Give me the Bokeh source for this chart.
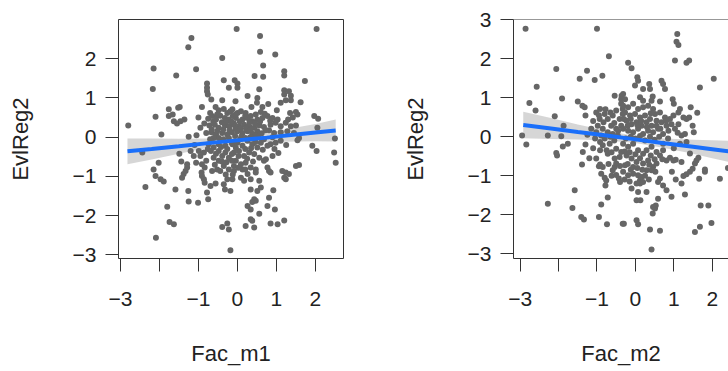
from bokeh.plotting import figure
from bokeh.layouts import row
from bokeh.models import FixedTicker, Span
from bokeh.embed import file_html
from bokeh.resources import INLINE

# ---------------- data ----------------
x_ticks = [-3, -2, -1, 0, 1, 2]
y_ticks_m1 = [-3, -2, -1, 0, 1, 2]
y_ticks_m2 = [-3, -2, -1, 0, 1, 2, 3]
x_title_m1 = "Fac_m1"
x_title_m2 = "Fac_m2"
y_title = "EvlReg2"

m1_points = [
    (-1.18, 2.53), (-1.26, 2.29), (-0.39, 2.02), (-2.15, 1.75), (-1.06, 1.73), (-1.57, 1.57), (-2.17, 1.23),
    (-0.78, 1.37), (-0.78, 1.26), (-0.78, 1.17), (-0.76, 1.09), (-0.35, 1.45), (-0.22, 1.26), (-0.67, 0.96),
    (-0.39, 0.94), (-0.91, 0.77), (-1.76, 0.71), (-1.52, 0.75), (-1.48, 0.77), (-2.10, 0.52), (-1.76, 0.54),
    (-1.66, 0.58), (-1.63, 0.41), (-1.55, 0.35), (-1.46, 0.41), (-1.36, 0.45), (-2.80, 0.30), (-1.95, 0.07),
    (-1.25, 0.01), (-0.95, 0.24),
    (-0.56, 0.77), (-0.48, 0.69), (-0.35, 0.72), (-0.26, 0.62), (-0.18, 0.66), (-0.75, 0.47), (-0.65, 0.54),
    (-0.55, 0.45), (-0.44, 0.55), (-0.32, 0.49), (-0.22, 0.45), (-0.12, 0.54), (-0.72, 0.30), (-0.58, 0.32),
    (-0.48, 0.24), (-0.32, 0.30), (-0.21, 0.28), (-0.09, 0.35), (-0.80, 0.11), (-0.67, 0.13), (-0.55, 0.07),
    (-0.39, 0.11), (-0.26, 0.07), (-0.14, 0.13), (-0.48, -0.02), (-0.61, -0.02),
    (-0.02, 2.76), (2.03, 2.76), (0.58, 2.58), (0.58, 2.18), (0.97, 2.11), (0.66, 1.83), (1.20, 1.68),
    (1.20, 1.57), (0.44, 1.56), (0.66, 1.54), (-0.07, 1.45), (0.0, 1.37), (0.0, 1.26), (1.73, 1.43),
    (0.56, 1.22), (1.20, 1.20), (1.20, 1.09), (1.32, 1.17), (1.37, 1.06), (-0.05, 0.92), (0.26, 1.05),
    (0.51, 1.00), (1.24, 0.94), (1.37, 0.94), (0.50, 0.88), (0.79, 0.85), (1.11, 0.88), (1.62, 0.89),
    (0.36, 0.77), (0.64, 0.77), (1.01, 0.69), (1.35, 0.62), (1.50, 0.64), (1.54, 0.58), (1.97, 0.54),
    (2.07, 0.47),
    (-0.13, 0.71), (0.0, 0.62), (0.09, 0.66), (0.21, 0.62), (0.34, 0.54), (0.47, 0.58), (0.60, 0.64),
    (-0.04, 0.49), (0.13, 0.45), (0.26, 0.49), (0.38, 0.41), (0.51, 0.45), (0.64, 0.49), (0.77, 0.54),
    (0.90, 0.49), (1.03, 0.45), (-0.09, 0.32), (0.04, 0.28), (0.17, 0.32), (0.30, 0.28), (0.43, 0.24),
    (0.56, 0.30), (0.68, 0.26), (0.85, 0.32), (0.98, 0.37), (1.11, 0.28), (1.24, 0.37), (1.37, 0.28),
    (1.50, 0.30), (0.0, 0.15), (0.13, 0.11), (0.26, 0.15), (0.38, 0.09), (0.51, 0.15), (0.81, 0.18),
    (0.94, 0.11), (1.11, 0.13), (1.28, 0.15), (1.45, 0.11), (1.58, -0.02), (2.05, 0.24),
    (-2.44, -0.39), (-2.02, -0.65), (-2.15, -0.82), (-2.10, -0.99), (-1.97, -1.07), (-1.89, -1.13),
    (-2.36, -1.27), (-1.59, -1.33), (-1.80, -1.77), (-1.74, -2.16), (-1.63, -2.22), (-2.09, -2.56),
    (-1.38, -0.94), (-1.33, -0.86), (-1.29, -0.77), (-1.42, -1.03), (-1.49, -0.42), (-1.44, -0.62),
    (-1.29, -0.69), (-1.26, -1.37), (-1.25, -1.64), (-1.01, -1.67), (-0.92, -0.90), (-0.91, -0.99),
    (-0.86, -1.07), (-0.84, -1.16), (-0.78, -1.41), (-0.75, -1.58), (-0.69, -1.24), (-0.56, -1.18),
    (-0.39, -2.29), (-0.26, -2.20), (-0.22, -2.35), (-0.18, -2.88), (-0.32, -1.33), (-0.35, -1.20),
    (-0.26, -1.07), (-0.18, -1.37),
    (-0.48, -0.35), (-0.39, -0.48), (-0.31, -0.39), (-0.22, -0.52), (-0.14, -0.43), (-0.48, -0.60),
    (-0.35, -0.73), (-0.22, -0.82), (-0.09, -0.73), (-0.61, -0.52), (-0.52, -0.82), (-0.74, -0.18),
    (-0.61, -0.26), (-0.48, -0.18), (-0.31, -0.22), (-0.14, -0.14), (-0.65, -0.86), (-0.44, -0.86),
    (-1.06, -0.65), (-0.95, -0.48), (-0.91, -0.69), (-0.84, -0.77), (-0.80, -0.60), (-0.99, -0.35),
    (-1.12, -0.48), (-0.86, -0.39),
    (1.54, -0.08), (1.92, -0.22), (2.03, -0.35), (2.48, -0.39), (2.52, -0.65), (2.50, -0.03), (1.50, -0.73),
    (1.58, -0.71), (1.15, -0.86), (1.24, -0.90), (1.32, -0.94), (1.20, -1.03), (1.24, -1.07), (0.90, -0.48),
    (0.73, -0.56), (0.68, -0.60), (0.77, -0.77), (0.81, -0.86), (0.85, -0.90), (0.47, -0.90), (0.34, -1.07),
    (0.56, -1.11), (0.92, -1.35), (0.34, -1.33), (0.51, -1.37), (0.60, -1.28), (0.81, -1.54), (0.77, -1.75),
    (0.96, -1.84), (0.43, -1.58), (0.47, -1.62), (0.38, -1.65), (0.26, -1.75), (0.34, -1.84), (0.56, -1.95),
    (0.34, -2.09), (0.38, -2.13), (0.21, -2.26), (0.43, -2.30), (0.85, -2.20), (1.03, -2.22), (1.20, -2.12),
    (-0.13, -0.18), (0.0, -0.14), (0.13, -0.22), (0.26, -0.09), (0.38, -0.18), (0.51, -0.26), (0.60, -0.14),
    (0.68, -0.05), (0.77, -0.22), (-0.09, -0.39), (0.04, -0.35), (0.17, -0.48), (0.30, -0.39), (0.43, -0.43),
    (0.56, -0.52), (-0.04, -0.60), (0.09, -0.69), (0.21, -0.65), (0.34, -0.77), (0.47, -0.82), (-0.09, -0.86),
    (0.13, -0.82), (0.26, -0.94), (-0.13, -1.07), (0.09, -1.03), (0.17, -1.11), (0.85, -0.18), (0.98, -0.14),
    (1.11, -0.09),
    (-0.70, 0.62), (-0.62, 0.40), (-0.52, 0.58), (-0.40, 0.38), (-0.28, 0.40), (-0.16, 0.40), (-0.05, 0.58),
    (0.06, 0.40), (0.20, 0.55), (0.31, 0.38), (0.45, 0.35), (0.58, 0.40), (0.70, 0.60), (0.84, 0.42),
    (-0.66, 0.20), (-0.52, 0.16), (-0.36, 0.20), (-0.20, 0.18), (-0.05, 0.22), (0.08, 0.22), (0.22, 0.22),
    (0.34, 0.19), (0.46, 0.05), (0.62, 0.10), (0.72, 0.18), (-0.70, -0.05), (-0.36, -0.05), (-0.22, -0.02),
    (-0.06, 0.03), (0.10, 0.02), (0.20, -0.02), (0.33, 0.00), (0.54, 0.02), (-0.68, -0.35), (-0.55, -0.42),
    (-0.42, -0.25), (-0.26, -0.30), (-0.04, -0.27), (0.07, -0.05), (0.20, -0.30), (0.35, -0.28), (0.46, -0.12),
    (0.65, -0.32), (-0.58, -0.70), (-0.40, -0.62), (-0.28, -0.64), (-0.14, -0.60), (0.03, -0.48), (0.25, -0.55),
    (0.40, -0.62), (-0.30, -0.95), (-0.12, -0.95), (0.02, -0.78), (0.20, -0.82), (-0.76, -0.30), (-0.85, 0.35),
    (-1.00, 0.50), (-1.10, -0.20), (-1.20, -0.35), (-1.05, 0.05), (0.95, -0.30), (1.05, -0.40), (0.90, 0.00),
    (1.25, -0.20), (1.30, 0.45), (1.42, 0.50),
]

m2_points = [
    (-2.86, 2.76), (-1.00, 2.76), (-0.69, 2.06), (-2.06, 1.73), (-1.26, 1.69), (-1.45, 1.48), (-1.06, 1.45),
    (-0.86, 1.56), (-2.57, 1.28), (-1.91, 0.98), (-1.50, 0.90), (-1.38, 0.79), (-1.32, 0.75), (-2.76, 0.86),
    (-2.60, 0.67), (-2.10, 0.52), (-1.87, 0.28), (-1.30, 0.54), (-0.54, 1.05), (-0.37, 0.96), (-2.95, 0.03),
    (-2.28, 0.03), (-1.93, 0.01),
    (-1.02, 0.62), (-0.92, 0.71), (-0.80, 0.58), (-0.93, 0.45), (-0.83, 0.37), (-0.98, 0.28), (-0.72, 0.45),
    (-0.59, 0.54), (-0.50, 0.67), (-0.41, 0.45), (-0.33, 0.58), (-0.63, 0.28), (-0.50, 0.20), (-0.85, 0.20),
    (-0.72, 0.11), (-0.37, 0.28), (-0.46, 0.03), (-0.59, 0.07), (-1.02, 0.11), (-0.89, 0.03), (-0.37, 0.84),
    (-0.33, 0.71),
    (1.09, 2.63), (1.07, 2.43), (1.12, 2.35), (1.03, 1.95), (1.33, 1.89), (1.40, 1.95), (2.04, 1.48),
    (1.68, 1.26), (-0.19, 1.89), (-0.10, 1.75), (0.05, 1.52), (0.07, 1.43), (-0.01, 1.31), (0.20, 1.22),
    (0.36, 1.35), (0.38, 1.22), (0.68, 1.43), (0.72, 1.35), (0.77, 1.22), (-0.36, 1.05), (-0.27, 0.96),
    (-0.32, 1.09), (0.12, 1.01), (0.20, 0.92), (0.45, 1.03), (0.42, 0.92), (0.64, 0.90), (0.97, 0.96),
    (1.00, 0.84), (1.44, 0.75), (1.61, 0.61), (1.16, 0.71), (1.12, 0.62), (1.25, 0.49), (1.33, 0.45),
    (1.40, 0.49), (0.99, 0.54), (0.90, 0.45), (1.49, 0.28), (1.52, 0.11), (1.29, 0.07), (1.20, 0.03),
    (-0.32, 0.79), (-0.19, 0.75), (-0.06, 0.84), (0.07, 0.71), (0.20, 0.75), (0.33, 0.79), (0.46, 0.71),
    (-0.27, 0.62), (-0.14, 0.54), (-0.01, 0.58), (0.12, 0.49), (0.25, 0.54), (0.38, 0.45), (0.51, 0.58),
    (0.64, 0.62), (0.77, 0.49), (-0.23, 0.41), (-0.10, 0.32), (0.03, 0.37), (0.16, 0.28), (0.29, 0.37),
    (0.42, 0.28), (0.55, 0.41), (0.68, 0.37), (0.81, 0.28), (0.94, 0.32), (-0.32, 0.20), (-0.19, 0.15),
    (-0.06, 0.11), (0.07, 0.20), (0.20, 0.07), (0.33, 0.15), (0.46, 0.11), (0.59, 0.20), (0.72, 0.07),
    (0.86, 0.15), (1.03, 0.20), (1.12, 0.32),
    (-2.84, -0.20), (-2.06, -0.42), (-2.04, -0.48), (-1.89, -0.25), (-1.76, -0.18), (-1.37, -0.39),
    (-1.30, -0.20), (-1.39, -0.71), (-1.58, -1.37), (-2.28, -1.72), (-1.64, -1.83), (-1.41, -2.06),
    (-1.34, -2.12), (-0.89, -1.74), (-0.72, -1.56), (-0.95, -2.06), (-0.74, -2.24), (-0.33, -2.23),
    (-1.02, -0.56), (-0.95, -0.76), (-0.92, -0.71), (-0.85, -0.78), (-0.89, -0.95), (-0.80, -1.05),
    (-0.76, -1.12), (-0.78, -1.25), (-0.59, -0.86), (-0.54, -0.78), (-0.50, -0.69), (-0.43, -1.07),
    (-0.40, -1.16), (-0.41, -0.52), (-0.54, -0.56), (-0.72, -0.44), (-0.92, -0.35), (-0.85, -0.22),
    (-0.67, -0.18), (-0.50, -0.31), (-0.37, -0.39), (-0.92, -0.14),
    (2.20, -1.08), (1.70, -1.76), (1.90, -1.76), (1.98, -2.21), (1.68, -2.31), (1.55, -2.44), (0.42, -2.89),
    (0.38, -2.38), (0.64, -2.41), (-0.30, -2.23), (0.03, -2.14), (0.07, -2.24), (0.45, -1.97), (0.51, -1.84),
    (0.53, -1.76), (0.46, -1.80), (0.03, -1.63), (0.13, -1.63), (0.59, -1.59), (0.94, -1.54), (1.29, -1.48),
    (-0.10, -1.33), (0.07, -1.42), (0.29, -1.42), (0.72, -1.25), (0.81, -1.37), (1.20, -1.20), (1.66, -1.08),
    (1.81, -0.90), (1.81, -0.84), (1.25, -1.01), (1.33, -0.96), (1.42, -0.90), (1.49, -0.82), (1.55, -0.69),
    (1.59, -0.61), (1.64, -0.54), (0.99, -0.61), (1.05, -0.59), (0.90, -0.54), (1.20, -0.65), (0.55, -0.69),
    (0.46, -0.78), (0.42, -0.86), (0.64, -1.07), (0.59, -1.16), (1.42, -0.43),
    (-0.32, -0.90), (-0.19, -0.99), (-0.06, -0.95), (0.07, -0.99), (0.16, -1.03), (0.12, -1.12),
    (0.12, -1.20), (0.03, -1.20), (0.20, -1.16), (-0.32, -0.18), (-0.19, -0.26), (-0.06, -0.18),
    (0.07, -0.35), (0.20, -0.44), (0.29, -0.35), (0.42, -0.26), (0.55, -0.39), (0.72, -0.35), (0.64, -0.48),
    (0.81, -0.61), (-0.23, -0.48), (-0.10, -0.56), (0.03, -0.65), (0.20, -0.69), (0.33, -0.61), (-0.27, -0.73),
    (-0.06, -0.78), (0.29, -0.86), (0.72, -0.18), (1.16, -0.18), (1.33, -0.14), (2.41, -0.80),
    (-1.10, 0.40), (-1.15, 0.20), (-1.05, -0.05), (-1.10, -0.30), (-0.95, 0.55), (-0.78, 0.70), (-0.65, 0.62),
    (-0.55, 0.35), (-0.45, 0.15), (-0.30, 0.45), (-0.20, 0.28), (-0.12, 0.45), (0.05, 0.30), (0.15, 0.40),
    (0.30, 0.25), (0.40, 0.60), (0.55, 0.28), (0.65, 0.20), (0.80, 0.40), (-0.80, -0.05), (-0.65, 0.00),
    (-0.55, -0.10), (-0.25, -0.05), (-0.12, 0.00), (0.00, -0.05), (0.12, 0.02), (0.25, -0.10), (0.38, 0.00),
    (0.50, -0.08), (0.62, 0.00), (0.85, -0.05), (-0.75, -0.35), (-0.62, -0.40), (-0.28, -0.38), (-0.15, -0.40),
    (0.00, -0.45), (0.12, -0.55), (0.40, -0.48), (0.50, -0.58), (0.70, -0.58), (-0.70, -0.70), (-0.40, -0.75),
    (-0.20, -0.70), (-0.12, -0.85), (0.05, -0.80), (0.18, -0.85), (0.36, -0.72), (0.52, -0.90), (-0.62, -1.00),
    (-0.50, -0.98), (-0.28, -1.10), (-0.15, -1.15), (0.25, -1.00), (0.35, -1.10), (-1.20, -0.55), (-1.25, 0.05),
    (1.00, -0.30), (1.10, 0.10), (0.95, -0.90), (1.05, -1.10),
]

# fitted line and its confidence band
m1_fit_x = [-2.82, -2.2, -1.5, -0.75, 0.0, 0.75, 1.5, 2.0, 2.52]
m1_fit_y = [-0.36, -0.30, -0.23, -0.15, -0.08, -0.01, 0.07, 0.12, 0.17]
m1_fit_lo = [-0.69, -0.57, -0.42, -0.27, -0.17, -0.13, -0.11, -0.10, -0.11]
m1_fit_hi = [-0.03, -0.03, -0.04, -0.03, 0.01, 0.11, 0.25, 0.34, 0.45]

m2_fit_x = [-2.92, -2.2, -1.5, -0.75, 0.0, 0.75, 1.5, 2.0, 2.62]
m2_fit_y = [0.30, 0.21, 0.12, 0.03, -0.07, -0.17, -0.26, -0.32, -0.40]
m2_fit_lo = [-0.04, -0.06, -0.07, -0.10, -0.16, -0.29, -0.44, -0.55, -0.69]
m2_fit_hi = [0.64, 0.48, 0.31, 0.15, 0.02, -0.05, -0.08, -0.09, -0.11]

# ---------------- styling ----------------
FONT = "Liberation Sans"
TXT = "#222222"
FRAME = "#333333"
PT = "#666666"
BLUE = "#1a6ffa"
BAND = "#999999"


def panel(points, fx, fy, flo, fhi, x_range, y_range, y_ticks, width, mb_left, mb_right,
          x_title, full_box):
    p = figure(width=width, height=371, x_range=x_range, y_range=y_range,
               output_backend="svg", toolbar_location=None,
               min_border_left=mb_left, min_border_right=mb_right,
               min_border_top=19, min_border_bottom=113)
    p.grid.visible = False
    p.background_fill_color = "white"
    p.border_fill_color = "white"

    xs = [pt[0] for pt in points]
    ys = [pt[1] for pt in points]

    p.varea(x=fx, y1=flo, y2=fhi, fill_color=BAND, fill_alpha=0.4)
    p.scatter(xs, ys, size=6, fill_color=PT, line_color=None)
    p.line(fx, fy, line_color=BLUE, line_width=4)

    for ax in (p.xaxis[0], p.yaxis[0]):
        ax.major_tick_in = 0
        ax.major_tick_out = 13
        ax.minor_tick_line_color = None
        ax.major_tick_line_color = FRAME
        ax.major_label_text_font = FONT
        ax.major_label_text_font_size = "21px"
        ax.major_label_text_color = TXT
        ax.axis_label_text_font = FONT
        ax.axis_label_text_font_size = "22px"
        ax.axis_label_text_font_style = "normal"
        ax.axis_label_text_color = TXT

    p.xaxis.ticker = FixedTicker(ticks=x_ticks)
    p.xaxis.major_label_overrides = {-2: ""}
    p.xaxis.major_label_standoff = 20
    p.xaxis.axis_label = x_title
    p.xaxis.axis_label_standoff = 32

    p.yaxis.ticker = FixedTicker(ticks=y_ticks)
    p.yaxis.major_label_standoff = 9
    p.yaxis.axis_label = y_title
    p.yaxis.axis_label_standoff = 37

    if full_box:
        p.outline_line_color = FRAME
        p.axis.axis_line_color = None
    else:
        p.outline_line_color = None
        p.axis.axis_line_color = FRAME
        p.add_layout(Span(location=y_range[1], dimension="width", line_color=FRAME, line_width=1))
    return p


p1 = panel(m1_points, m1_fit_x, m1_fit_y, m1_fit_lo, m1_fit_hi,
           (-3.05, 2.72), (-3.09, 3.0), y_ticks_m1, 364, 118, 21, x_title_m1, True)
p2 = panel(m2_points, m2_fit_x, m2_fit_y, m2_fit_lo, m2_fit_hi,
           (-3.174, 2.424), (-3.12, 3.0), y_ticks_m2, 364, 149, 0, x_title_m2, False)

layout = row(p1, p2)
open("out.html", "w").write(file_html(layout, INLINE))
